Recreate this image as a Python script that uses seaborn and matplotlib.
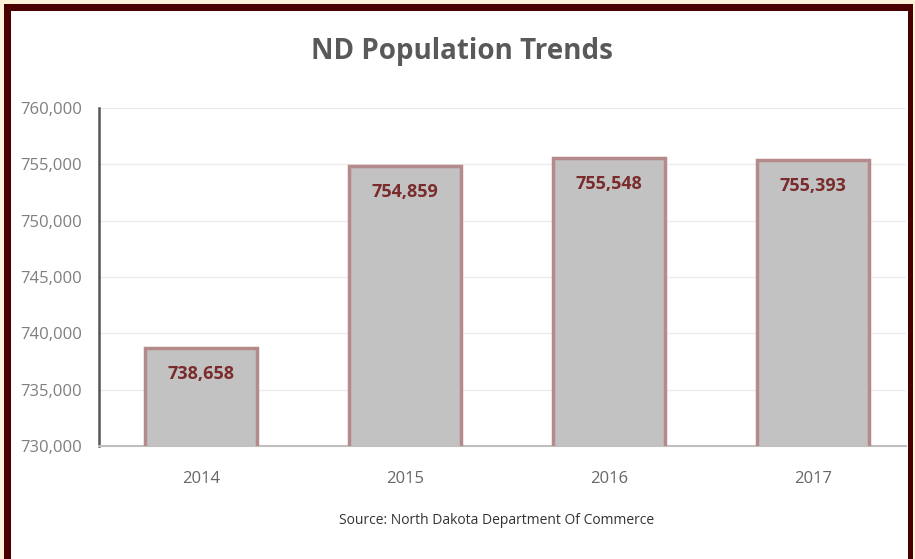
import matplotlib
matplotlib.use("Agg")
import matplotlib.pyplot as plt
from matplotlib.patches import Rectangle
from matplotlib.ticker import FuncFormatter
import seaborn as sns
import pandas as pd

years = ["2014", "2015", "2016", "2017"]
population = [738658, 754859, 755548, 755393]
y_ticks = [730000, 735000, 740000, 745000, 750000, 755000, 760000]
title = "ND Population Trends"
source = "Source: North Dakota Department Of Commerce"

df = pd.DataFrame({"year": years, "population": population})

sns.set_theme(style="white")
plt.rcParams["font.family"] = ["Open Sans", "DejaVu Sans"]

W, H = 915, 559
fig = plt.figure(figsize=(W / 100, H / 100), dpi=100)
fig.patch.set_facecolor("#fdf1da")
# maroon frame and white interior
fig.patches.append(Rectangle((4 / W, 0), (913 - 4) / W, (H - 4) / H, transform=fig.transFigure,
                             facecolor="#4a0000", edgecolor="none", zorder=-10))
fig.patches.append(Rectangle((11 / W, 0), (908 - 11) / W, (H - 11) / H, transform=fig.transFigure,
                             facecolor="white", edgecolor="none", zorder=-9))

left_px, right_px, slot = 99, 906, 204
ax = fig.add_axes([left_px / W, 1 - 446 / H, (right_px - left_px) / W, (446 - 108) / H])
ax.set_facecolor("none")
sns.barplot(data=df, x="year", y="population", ax=ax, color="#c2c2c2",
            width=0.55, edgecolor="#b58a8a", linewidth=2.5, saturation=1, zorder=3)
ax.set_xlim(-0.5, -0.5 + (right_px - left_px) / slot)
ax.set_ylim(730000, 760000)
ax.set_yticks(y_ticks)
ax.yaxis.set_major_formatter(FuncFormatter(lambda v, p: f"{int(v):,}"))
ax.grid(axis="y", color="#ececec", linewidth=1, zorder=0)
ax.set_xlabel("")
ax.set_ylabel("")
for s in ["top", "right"]:
    ax.spines[s].set_visible(False)
ax.spines["left"].set_color("#555555")
ax.spines["left"].set_linewidth(1.8)
ax.spines["bottom"].set_color("#bfbfbf")
ax.spines["bottom"].set_linewidth(1.5)
ax.tick_params(axis="y", labelsize=12, colors="#7f7f7f", length=0, pad=12)
ax.tick_params(axis="x", labelsize=12, colors="#666666", length=0, pad=18)

for i, v in enumerate(population):
    ax.annotate(f"{v:,}", (i, v), xytext=(0, -12), textcoords="offset points",
                ha="center", va="top", fontsize=13, fontweight="bold",
                color="#7a2b2b", zorder=5)

fig.text(462 / W, 1 - 52 / H, title, ha="center", va="center", fontsize=20,
         fontweight="bold", color="#595959")
fig.text(497 / W, 1 - 520 / H, source, ha="center", va="center", fontsize=10,
         color="#333333")

fig.savefig("out.png", dpi=100, facecolor=fig.get_facecolor())
